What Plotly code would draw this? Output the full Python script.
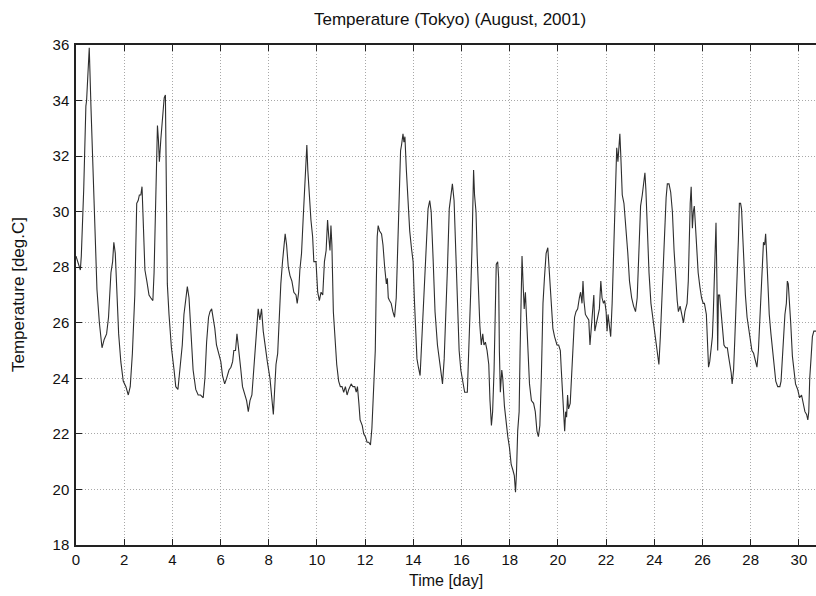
import plotly.graph_objects as go

# time in days since 1 Aug 2001 00:00, temperature in deg C
days = [
    0.00, 0.08, 0.18, 0.22, 0.32, 0.41, 0.44, 0.48, 0.55, 0.62, 0.72, 0.80, 0.87, 0.97,
    1.08, 1.17, 1.27, 1.35, 1.45, 1.52, 1.57, 1.63, 1.70, 1.77, 1.86, 1.96,
    2.07, 2.17, 2.25, 2.34, 2.44, 2.50, 2.52, 2.58, 2.63, 2.69, 2.74, 2.80, 2.86, 2.94,
    3.03, 3.10, 3.19, 3.24, 3.31, 3.38, 3.42, 3.46, 3.52, 3.59, 3.66, 3.71, 3.74, 3.79, 3.86, 3.96,
    4.07, 4.14, 4.23, 4.32, 4.41, 4.48, 4.55, 4.62, 4.69, 4.76, 4.86, 4.97,
    5.07, 5.17, 5.28, 5.35, 5.42, 5.50, 5.56, 5.63, 5.70, 5.76, 5.83, 5.93,
    6.01, 6.08, 6.17, 6.25, 6.35, 6.43, 6.50, 6.55, 6.62, 6.68, 6.75, 6.83, 6.91,
    7.01, 7.08, 7.15, 7.22, 7.30, 7.38, 7.45, 7.52, 7.56, 7.63, 7.70, 7.77, 7.84, 7.94,
    8.05, 8.12, 8.19, 8.25, 8.30, 8.37, 8.43, 8.50, 8.57, 8.63, 8.68, 8.74, 8.81, 8.88, 8.96,
    9.04, 9.13, 9.18, 9.24, 9.29, 9.36, 9.43, 9.50, 9.54, 9.58, 9.62, 9.68, 9.75, 9.82, 9.87, 9.96,
    10.03, 10.10, 10.17, 10.24, 10.31, 10.38, 10.44, 10.49, 10.54, 10.58, 10.62, 10.68, 10.75,
    10.82, 10.90, 10.97, 11.04, 11.11, 11.18, 11.25, 11.32, 11.42, 11.49, 11.57, 11.63, 11.68,
    11.74, 11.79, 11.88, 11.94, 12.01, 12.08, 12.15, 12.22, 12.28, 12.35, 12.42, 12.46, 12.50,
    12.54, 12.60, 12.68, 12.74, 12.81, 12.88, 12.92, 12.96, 13.01, 13.08, 13.15, 13.22, 13.29,
    13.35, 13.40, 13.43, 13.47, 13.51, 13.57, 13.61, 13.65, 13.71, 13.78, 13.85, 13.92, 13.99,
    14.04, 14.10, 14.15, 14.21, 14.28, 14.33, 14.40, 14.47, 14.54, 14.61, 14.68, 14.74, 14.82, 14.90,
    15.00, 15.07, 15.14, 15.21, 15.28, 15.35, 15.42, 15.49, 15.56, 15.62, 15.69, 15.76, 15.83, 15.90, 15.97,
    16.04, 16.13, 16.24, 16.32, 16.38, 16.43, 16.47, 16.50, 16.54, 16.60, 16.65, 16.71, 16.76, 16.82,
    16.88, 16.93, 16.99, 17.06, 17.13, 17.18, 17.24, 17.29, 17.35, 17.40, 17.44, 17.50, 17.54, 17.57,
    17.61, 17.67, 17.71, 17.78, 17.85, 17.92, 17.99, 18.06, 18.13, 18.19, 18.24, 18.28, 18.33, 18.39,
    18.43, 18.47, 18.51, 18.56, 18.60, 18.65, 18.71, 18.76, 18.82, 18.90, 18.99, 19.06, 19.13, 19.19,
    19.25, 19.31, 19.38, 19.44, 19.51, 19.58, 19.65, 19.72, 19.79, 19.86,
    19.96, 20.03, 20.10, 20.14, 20.19, 20.24, 20.28, 20.32, 20.36, 20.40, 20.44, 20.51, 20.58, 20.65,
    20.69, 20.75, 20.82, 20.89, 20.94, 21.00, 21.04, 21.08, 21.14, 21.21, 21.28, 21.33, 21.39, 21.44,
    21.49, 21.53, 21.58, 21.65, 21.72, 21.78, 21.83, 21.89, 21.94, 22.00, 22.04, 22.08, 22.14, 22.19,
    22.25, 22.31, 22.36, 22.40, 22.44, 22.49, 22.53, 22.57, 22.61, 22.67, 22.74, 22.81, 22.85, 22.90,
    22.97, 23.06, 23.14, 23.22, 23.29, 23.36, 23.43, 23.50, 23.56, 23.61, 23.65, 23.71, 23.78, 23.86,
    23.94, 24.01, 24.08, 24.14, 24.19, 24.25, 24.31, 24.36, 24.43, 24.49, 24.54, 24.61, 24.68, 24.75,
    24.82, 24.89, 24.95,
    25.00, 25.07, 25.14, 25.21, 25.27, 25.36, 25.41, 25.45, 25.49, 25.53, 25.58, 25.62, 25.66, 25.70,
    25.75, 25.82, 25.89, 25.96, 26.03, 26.08, 26.16, 26.21, 26.25, 26.30, 26.36, 26.41, 26.45, 26.49,
    26.52, 26.56, 26.60, 26.63, 26.66, 26.71, 26.77, 26.82, 26.89, 26.96, 27.03, 27.08, 27.14, 27.19,
    27.23, 27.29, 27.34, 27.40, 27.45, 27.49, 27.53, 27.58, 27.62, 27.67, 27.73, 27.78, 27.85, 27.92,
    27.99, 28.05, 28.12, 28.19, 28.26, 28.32, 28.37, 28.44, 28.49, 28.53, 28.58, 28.62, 28.66, 28.71,
    28.77, 28.84, 28.90, 28.97, 29.04, 29.12, 29.21, 29.26, 29.32, 29.37, 29.42, 29.48, 29.52, 29.56,
    29.60, 29.66, 29.73, 29.79, 29.86, 29.95, 30.03, 30.11, 30.18, 30.25, 30.32, 30.37, 30.41, 30.45,
    30.51, 30.56, 30.62, 30.66, 30.71,
]
temps = [
    28.4, 28.2, 27.9, 28.4, 30.8, 33.8, 34.0, 34.7, 35.9, 33.8, 31.4, 29.0, 27.2, 26.0,
    25.1, 25.4, 25.6, 26.2, 27.8, 28.2, 28.9, 28.5, 26.8, 25.6, 24.6, 23.9,
    23.7, 23.4, 23.7, 24.9, 27.0, 29.0, 30.3, 30.4, 30.6, 30.6, 30.9, 29.4, 27.9, 27.5,
    27.0, 26.9, 26.8, 27.8, 30.4, 33.1, 32.6, 31.8, 32.6, 33.5, 34.1, 34.2, 31.4, 27.4, 26.3, 25.1,
    24.3, 23.7, 23.6, 24.4, 25.2, 26.3, 26.8, 27.3, 26.9, 25.6, 24.3, 23.6,
    23.4, 23.4, 23.3, 24.0, 25.3, 26.2, 26.4, 26.5, 26.1, 25.8, 25.2, 24.9,
    24.6, 24.1, 23.8, 24.0, 24.3, 24.4, 24.6, 25.0, 25.0, 25.6, 25.1, 24.4, 23.7,
    23.4, 23.2, 22.8, 23.2, 23.4, 24.4, 25.1, 26.1, 26.5, 26.1, 26.5, 25.7, 25.2, 24.6,
    24.0, 23.4, 22.7, 23.7, 24.5, 24.9, 26.3, 27.4, 28.2, 28.8, 29.2, 28.8, 28.0, 27.7, 27.5,
    27.1, 27.0, 26.7, 27.1, 27.9, 28.5, 29.8, 31.1, 31.9, 32.4, 31.5, 30.5, 29.7, 29.1, 28.2, 28.2,
    27.1, 26.8, 27.1, 27.0, 28.2, 28.6, 29.7, 29.1, 28.6, 29.5, 28.8, 26.4, 25.2,
    24.5, 23.9, 23.7, 23.7, 23.5, 23.7, 23.4, 23.6, 23.8, 23.7, 23.7, 23.5, 23.7,
    23.1, 22.5, 22.3, 22.0, 21.9, 21.7, 21.7, 21.6, 22.2, 23.4, 25.0, 27.3, 29.1,
    29.5, 29.3, 29.2, 28.8, 28.0, 27.4, 27.6, 26.9, 26.8, 26.7, 26.4, 26.2, 26.9,
    28.8, 30.9, 31.2, 32.2, 32.4, 32.8, 32.5, 32.7, 31.5, 30.3, 29.3, 28.7, 28.2,
    26.9, 25.8, 24.7, 24.4, 24.1, 25.0, 26.2, 27.9, 28.9, 30.1, 30.4, 30.0, 28.3, 26.4,
    25.2, 24.7, 24.3, 23.8, 24.7, 26.2, 28.1, 30.1, 30.5, 31.0, 30.4, 28.8, 26.7, 25.0, 24.3,
    23.9, 23.5, 23.5, 25.2, 27.1, 28.6, 30.6, 31.5, 30.6, 30.0, 28.4, 26.9, 25.9, 25.2,
    25.6, 25.2, 25.3, 25.0, 24.5, 23.2, 22.3, 22.8, 24.3, 26.4, 28.1, 28.2, 27.6, 25.0,
    23.5, 24.3, 24.0, 23.0, 22.3, 21.9, 21.5, 20.9, 20.7, 20.5, 19.9, 20.6, 22.1, 22.8,
    25.0, 26.9, 28.4, 27.3, 26.5, 27.1, 25.9, 24.7, 23.8, 23.2, 23.1, 22.8, 22.1, 21.9,
    22.3, 24.0, 26.7, 27.6, 28.5, 28.7, 27.6, 26.9, 25.8, 25.5,
    25.2, 25.2, 25.0, 24.3, 23.3, 22.6, 22.1, 22.8, 22.6, 23.4, 22.9, 23.1, 24.3, 25.7,
    26.2, 26.4, 26.5, 26.9, 27.1, 26.7, 27.5, 26.8, 26.3, 26.2, 26.1, 25.2, 25.9, 26.7,
    27.0, 25.7, 25.9, 26.2, 26.5, 27.5, 26.9, 26.7, 26.8, 26.4, 25.7, 26.3, 25.7, 25.5,
    26.7, 28.5, 30.0, 31.7, 32.3, 31.8, 32.5, 32.8, 32.0, 30.6, 30.3, 29.5, 29.3, 28.5,
    27.5, 26.9, 26.6, 26.4, 26.9, 28.4, 30.2, 30.6, 31.0, 31.4, 30.8, 29.1, 27.8, 26.7,
    26.2, 25.7, 25.3, 25.0, 24.5, 25.5, 26.9, 28.0, 29.1, 30.5, 31.0, 31.0, 30.7, 30.0,
    28.6, 27.4, 26.8,
    26.4, 26.6, 26.3, 26.0, 26.4, 26.7, 27.5, 29.2, 30.3, 30.9, 29.4, 30.0, 30.2, 29.6,
    28.6, 27.8, 27.3, 26.9, 26.7, 26.7, 26.3, 25.2, 24.4, 24.6, 25.0, 25.5, 26.4, 27.8,
    29.1, 29.6, 27.4, 25.0, 27.0, 27.0, 26.4, 26.0, 25.2, 25.1, 25.1, 24.8, 24.5, 24.2,
    23.8, 24.3, 25.4, 26.7, 28.0, 29.0, 30.3, 30.3, 30.1, 29.0, 27.9, 27.0, 26.2, 25.8,
    25.4, 25.0, 24.9, 24.6, 24.4, 25.0, 26.0, 27.4, 28.4, 28.9, 28.8, 29.2, 28.5, 27.4,
    26.3, 25.6, 25.0, 24.4, 23.9, 23.7, 23.7, 23.9, 24.9, 25.6, 26.3, 26.7, 27.5, 27.4,
    26.9, 26.0, 24.8, 24.3, 23.8, 23.6, 23.3, 23.4, 23.1, 22.8, 22.7, 22.5, 22.8, 24.0,
    24.8, 25.5, 25.7, 25.7, 25.7,
]

x_ticks = list(range(0, 31, 2))
y_ticks = list(range(18, 37, 2))

FONT = "Liberation Sans, Arial, sans-serif"
GRID_DASH = "1px,2px"

fig = go.Figure()
fig.add_trace(go.Scatter(
    x=days, y=temps, mode="lines",
    line=dict(color="#2e2e2e", width=1.1),
    hoverinfo="x+y", showlegend=False,
))

fig.update_layout(
    width=816, height=596,
    margin=dict(l=76, r=0, t=45, b=51, autoexpand=False),
    paper_bgcolor="white", plot_bgcolor="white",
    font=dict(family=FONT, size=15, color="#111"),
    annotations=[
        dict(text="Temperature (Tokyo) (August, 2001)", xref="paper", yref="paper",
             x=0.505, y=1, yshift=26, xanchor="center", yanchor="middle",
             showarrow=False, font=dict(family=FONT, size=17, color="#111")),
        dict(text="Time [day]", xref="paper", yref="paper",
             x=0.5, y=0, yshift=-35, xanchor="center", yanchor="middle",
             showarrow=False, font=dict(family=FONT, size=16, color="#111")),
        dict(text="Temperature [deg.C]", xref="paper", yref="paper",
             x=0, y=0.5, xshift=-58, xanchor="center", yanchor="middle",
             textangle=-90, showarrow=False,
             font=dict(family=FONT, size=17, color="#111")),
    ],
)
fig.update_xaxes(
    range=[0, 30.71], tickmode="array", tickvals=x_ticks, automargin=False,
    ticks="inside", ticklen=6, tickcolor="#222", tickwidth=1,
    showline=True, linecolor="#222", linewidth=1.5, mirror="allticks",
    showgrid=True, gridcolor="#a8a8a8", griddash=GRID_DASH, gridwidth=1,
    zeroline=False, ticklabelstandoff=0,
    tickfont=dict(family=FONT, size=15),
)
fig.update_yaxes(
    range=[18, 36], tickmode="array", tickvals=y_ticks, automargin=False,
    ticks="inside", ticklen=6, tickcolor="#222", tickwidth=1,
    showline=True, linecolor="#222", linewidth=1.5, mirror=False,
    showgrid=True, gridcolor="#a8a8a8", griddash=GRID_DASH, gridwidth=1,
    zeroline=False, ticklabelstandoff=2,
    tickfont=dict(family=FONT, size=15),
)

# remove the page's default body margin so the 816x596 figure fills the window
fig.write_html(
    "out.html",
    config={"displayModeBar": False},
    post_script="document.body.style.margin='0';document.body.style.overflow='hidden';",
)
